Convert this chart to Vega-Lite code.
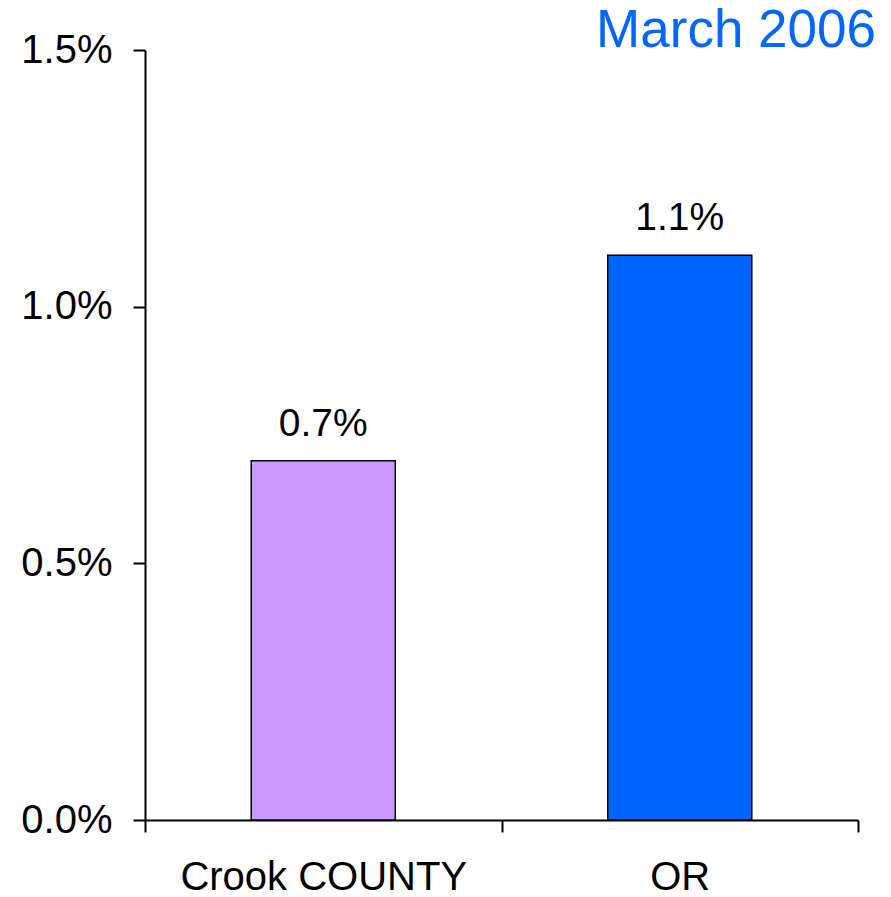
{
  "$schema": "https://vega.github.io/schema/vega-lite/v6.json",
  "width": 713,
  "height": 770,
  "autosize": {"type": "none"},
  "padding": {"left": 145, "top": 50, "right": 33, "bottom": 77},
  "background": "white",
  "title": {
    "text": "March 2006",
    "anchor": "end",
    "frame": "group",
    "baseline": "alphabetic",
    "offset": 0,
    "dx": 18,
    "dy": 70,
    "font": "Liberation Sans",
    "fontSize": 53,
    "fontWeight": "normal",
    "color": "#0066FF"
  },
  "data": {
    "values": [
      {"region": "Crook COUNTY", "rate": 0.007},
      {"region": "OR", "rate": 0.011}
    ]
  },
  "config": {
    "view": {"stroke": null},
    "font": "Liberation Sans",
    "axis": {
      "grid": false,
      "domainColor": "black",
      "domainWidth": 2,
      "tickColor": "black",
      "tickWidth": 2,
      "tickSize": 12,
      "labelFont": "Liberation Sans",
      "labelFontSize": 40,
      "labelColor": "black",
      "labelLimit": 500,
      "title": null
    }
  },
  "encoding": {
    "x": {
      "field": "region",
      "type": "nominal",
      "sort": null,
      "scale": {"paddingInner": 0, "paddingOuter": 0},
      "axis": {"labelAngle": 0, "tickBand": "extent", "labelPadding": 25}
    },
    "y": {
      "field": "rate",
      "type": "quantitative",
      "scale": {"domain": [0, 0.015]},
      "axis": {"values": [0, 0.005, 0.01, 0.015], "format": ".1%", "labelPadding": 21}
    }
  },
  "layer": [
    {
      "mark": {"type": "bar", "width": {"band": 0.404}, "stroke": "black", "strokeWidth": 1.5},
      "encoding": {
        "color": {
          "field": "region",
          "type": "nominal",
          "scale": {"domain": ["Crook COUNTY", "OR"], "range": ["#CC99FF", "#0066FF"]},
          "legend": null
        }
      }
    },
    {
      "mark": {"type": "text", "baseline": "alphabetic", "dy": -25, "fontSize": 39, "font": "Liberation Sans", "color": "black"},
      "encoding": {
        "text": {"field": "rate", "type": "quantitative", "format": ".1%"}
      }
    }
  ]
}
